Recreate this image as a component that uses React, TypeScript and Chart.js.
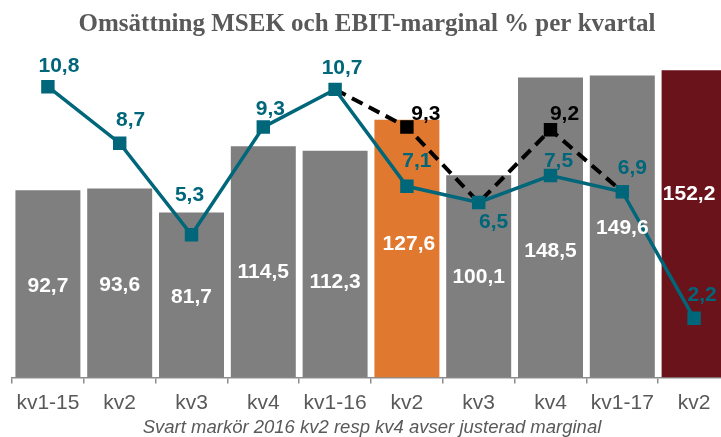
import React, { useEffect, useRef } from "react";
import { Chart, registerables } from "chart.js";

Chart.register(...registerables);

const categories = ["kv1-15", "kv2", "kv3", "kv4", "kv1-16", "kv2", "kv3", "kv4", "kv1-17", "kv2"];
const revenue = [92.7, 93.6, 81.7, 114.5, 112.3, 127.6, 100.1, 148.5, 149.6, 152.2];
const ebitMargin = [10.8, 8.7, 5.3, 9.3, 10.7, 7.1, 6.5, 7.5, 6.9, 2.2];
const adjustedMargin = [null, null, null, null, 10.7, 9.3, 6.5, 9.2, 6.9, null];

const titleText = "Omsättning MSEK och EBIT-marginal % per kvartal";
const footerText = "Svart markör 2016 kv2 resp kv4 avser justerad marginal";

// label placement (styling, not data)
const barLabelAt = [45.3, 45.8, 39.9, 52.2, 47.3, 66.1, 49.8, 62.6, 74, 90.8];
const barLabelDx = [0, 0, 0, 0, 0, 2, 0, 0, 0, -5];
const lineLabelDx = [11, 11, -2, 7, 7, 10, 15, 8, 10, 8];
const lineLabelDy = [-20, -23, -40, -18, -21, -25, 20, -14, -24, -23];
const adjLabelDx = [0, 0, 0, 0, 0, 19, 0, 14, 0, 0];
const adjLabelDy = [0, 0, 0, 0, 0, -13, 0, -16, 0, 0];

const GRAY = "#7f7f7f";
const TEAL = "#00667a";
const barColors = [GRAY, GRAY, GRAY, GRAY, GRAY, "#e0782f", GRAY, GRAY, GRAY, "#6b131b"];
const fmt = (v: number) => v.toFixed(1).replace(".", ",");

const labelsPlugin = {
  id: "customLabels",
  afterDatasetsDraw(chart: any) {
    const ctx = chart.ctx;
    ctx.save();
    ctx.textAlign = "center";
    ctx.textBaseline = "middle";
    ctx.font = 'bold 21px "Liberation Sans", Arial, sans-serif';
    const barMeta = chart.getDatasetMeta(0);
    const yScale = chart.scales.y;
    ctx.fillStyle = "#ffffff";
    barMeta.data.forEach((el: any, i: number) => {
      ctx.fillText(fmt(revenue[i]), el.x + barLabelDx[i], yScale.getPixelForValue(barLabelAt[i]));
    });
    const lineMeta = chart.getDatasetMeta(1);
    ctx.fillStyle = TEAL;
    lineMeta.data.forEach((el: any, i: number) => {
      ctx.fillText(fmt(ebitMargin[i]), el.x + lineLabelDx[i], el.y + lineLabelDy[i]);
    });
    const adjMeta = chart.getDatasetMeta(2);
    ctx.fillStyle = "#000000";
    adjMeta.data.forEach((el: any, i: number) => {
      if (i === 5 || i === 7) {
        const v = adjustedMargin[i] as number;
        ctx.fillText(fmt(v), el.x + adjLabelDx[i], el.y + adjLabelDy[i]);
      }
    });
    ctx.restore();
  },
  afterDraw(chart: any) {
    const ctx = chart.ctx;
    ctx.save();
    ctx.textAlign = "center";
    ctx.textBaseline = "middle";
    ctx.fillStyle = "#595959";
    ctx.font = 'bold 25px "Liberation Serif", "Times New Roman", serif';
    ctx.fillText(titleText, 367, 25);
    ctx.font = 'italic 18.5px "Liberation Sans", Arial, sans-serif';
    ctx.fillText(footerText, 372, 428);
    ctx.restore();
  },
};

export default function App() {
  const ref = useRef<HTMLCanvasElement | null>(null);
  useEffect(() => {
    if (!ref.current) return;
    const chart = new Chart(ref.current, {
      type: "bar",
      data: {
        labels: categories,
        datasets: [
          {
            type: "bar",
            data: revenue,
            backgroundColor: barColors,
            yAxisID: "y",
            barPercentage: 0.905,
            categoryPercentage: 1,
            order: 3,
          } as any,
          {
            type: "line",
            data: ebitMargin,
            yAxisID: "y1",
            borderColor: TEAL,
            backgroundColor: TEAL,
            borderWidth: 3.5,
            pointStyle: "rect",
            pointRadius: 9.5,
            pointBorderWidth: 0,
            pointBackgroundColor: TEAL,
            tension: 0,
            order: 1,
          } as any,
          {
            type: "line",
            data: adjustedMargin,
            yAxisID: "y1",
            borderColor: "#000000",
            backgroundColor: "#000000",
            borderWidth: 4,
            borderDash: [12, 7],
            pointStyle: "rect",
            pointRadius: [0, 0, 0, 0, 0, 9.5, 0, 9.5, 0, 0],
            pointBorderWidth: 0,
            pointBackgroundColor: "#000000",
            spanGaps: false,
            tension: 0,
            order: 2,
          } as any,
        ],
      },
      options: {
        animation: false,
        responsive: false,
        maintainAspectRatio: false,
        layout: { padding: { left: 12, right: 11, top: 14, bottom: 0 } },
        plugins: {
          legend: { display: false },
          tooltip: { enabled: false },
          title: { display: false },
        },
        scales: {
          x: {
            offset: true,
            grid: {
              offset: true,
              drawOnChartArea: false,
              drawTicks: true,
              tickLength: 6,
              color: "#8c8c8c",
              lineWidth: 1.5,
            },
            border: { display: true, color: "#8c8c8c", width: 1.5 },
            ticks: {
              color: "#595959",
              font: { family: '"Liberation Sans", Arial, sans-serif', size: 21 },
              padding: 7,
              maxRotation: 0,
              autoSkip: false,
            },
            afterFit: (s: any) => {
              s.height = 59.5;
            },
          },
          y: { display: false, min: 0, max: 180 },
          y1: { display: false, min: 0, max: 13.5, position: "right" },
        },
      } as any,
      plugins: [labelsPlugin],
    });
    return () => chart.destroy();
  }, []);
  return (
    <div
      style={{
        position: "fixed",
        left: 0,
        top: 0,
        width: 721,
        height: 437,
        overflow: "hidden",
        background: "#ffffff",
      }}
    >
      <canvas ref={ref} width={741} height={437} style={{ width: 741, height: 437, display: "block" }} />
    </div>
  );
}
